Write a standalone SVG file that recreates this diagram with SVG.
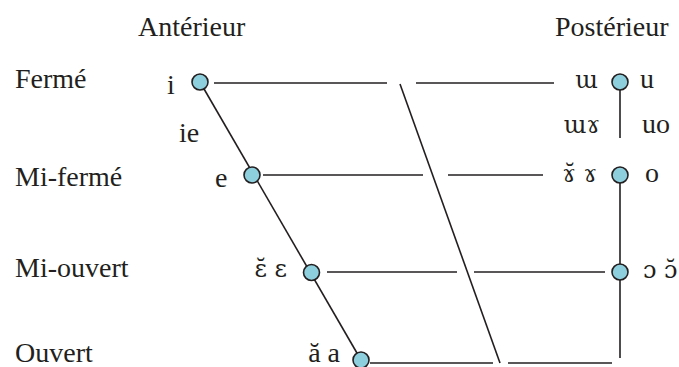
<svg xmlns="http://www.w3.org/2000/svg" width="679" height="367" viewBox="0 0 679 367">
<style>
text{font-family:"Liberation Serif","DejaVu Serif",serif;font-size:28px;fill:#231f20}
text.ipa{font-family:"DejaVu Serif","Liberation Serif",serif;font-size:24px}
.ln{stroke:#231f20;stroke-width:1.6;fill:none}
.nd{fill:#8ecfdd;stroke:#231f20;stroke-width:1.6}
</style>
<rect width="679" height="367" fill="#fff"/>
<text x="138" y="36">Antérieur</text>
<text x="555" y="36">Postérieur</text>
<text x="15" y="88">Fermé</text>
<text x="15" y="186">Mi-fermé</text>
<text x="15" y="277">Mi-ouvert</text>
<text x="15" y="362">Ouvert</text>
<g id="connectors" class="ln">
<line x1="200" y1="82" x2="361" y2="360"/>
<line x1="400" y1="84" x2="500" y2="363"/>
<line x1="214" y1="83" x2="387" y2="83"/>
<line x1="416" y1="83" x2="554" y2="83"/>
<line x1="263" y1="175" x2="423" y2="175"/>
<line x1="448" y1="175" x2="543" y2="175"/>
<line x1="327" y1="272" x2="457" y2="272"/>
<line x1="474" y1="272" x2="605" y2="272"/>
<line x1="370" y1="363" x2="493" y2="363"/>
<line x1="508" y1="363" x2="612" y2="363"/>
<line x1="620" y1="82" x2="620" y2="138"/>
<line x1="620" y1="175" x2="620" y2="358"/>
</g>
<g id="node-i"><circle class="nd" cx="200" cy="82" r="8"/><text x="167" y="94">i</text></g>
<g id="label-ie"><text x="179" y="142">ie</text></g>
<g id="node-e"><circle class="nd" cx="252" cy="175" r="8"/><text x="215" y="187">e</text></g>
<g id="node-epsilon"><circle class="nd" cx="311.5" cy="272.5" r="8"/><text class="ipa" x="287" y="277" text-anchor="end">ɛ̆ ɛ</text></g>
<g id="node-a"><circle class="nd" cx="361" cy="360" r="8"/><text x="340" y="362" text-anchor="end">ă a</text></g>
<g id="node-u"><circle class="nd" cx="620" cy="82" r="8"/><text class="ipa" x="598" y="88" text-anchor="end">ɯ</text><text x="640" y="88">u</text></g>
<g id="label-uo"><text class="ipa" x="600" y="133" text-anchor="end">ɯɤ</text><text x="642" y="133">uo</text></g>
<g id="node-o"><circle class="nd" cx="620" cy="175" r="8"/><text class="ipa" x="597" y="182" text-anchor="end">ɤ̆ ɤ</text><text x="645" y="182">o</text></g>
<g id="node-open-o"><circle class="nd" cx="620" cy="272" r="8"/><text class="ipa" x="643" y="278">ɔ ɔ̆</text></g>
</svg>
